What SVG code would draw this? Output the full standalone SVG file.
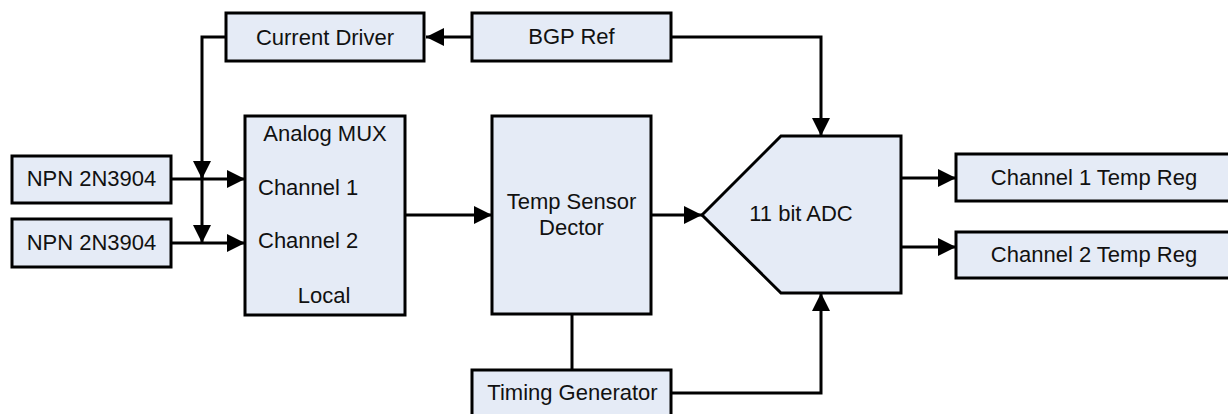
<svg xmlns="http://www.w3.org/2000/svg" width="1228" height="414" viewBox="0 0 1228 414">
<style>
.box{fill:#E5EBF6;stroke:#000;stroke-width:3;stroke-linejoin:miter}
.t{font-family:"Liberation Sans",Arial,sans-serif;font-size:22px;fill:#111}
.c{text-anchor:middle}
.ln{fill:none;stroke:#000;stroke-width:3}
</style>
<defs>
<marker id="ah" viewBox="0 0 18 18" refX="18" refY="9" markerWidth="18" markerHeight="18" markerUnits="userSpaceOnUse" orient="auto">
<path d="M0,0 L18,9 L0,18 z" fill="#000"/>
</marker>
</defs>
<rect width="1228" height="414" fill="#fff"/>
<g id="connectors">
<path class="ln" d="M472,37 H426" marker-end="url(#ah)"/>
<path class="ln" d="M226,37 H202 V178"/>
<path class="ln" d="M202,170 V179" marker-end="url(#ah)"/>
<path class="ln" d="M202,179 V243" marker-end="url(#ah)"/>
<path class="ln" d="M171,179 H245" marker-end="url(#ah)"/>
<path class="ln" d="M171,243 H245" marker-end="url(#ah)"/>
<path class="ln" d="M405,215 H492" marker-end="url(#ah)"/>
<path class="ln" d="M651,215 H702" marker-end="url(#ah)"/>
<path class="ln" d="M671,37 H821 V136" marker-end="url(#ah)"/>
<path class="ln" d="M572,314 V370"/>
<path class="ln" d="M671,393 H821 V293" marker-end="url(#ah)"/>
<path class="ln" d="M901,178 H956" marker-end="url(#ah)"/>
<path class="ln" d="M901,247 H956" marker-end="url(#ah)"/>
</g>
<g id="current-driver"><rect class="box" x="226" y="13" width="198" height="48"/><text class="t c" x="325" y="45">Current Driver</text></g>
<g id="bgp-ref"><rect class="box" x="472" y="13" width="199" height="48"/><text class="t c" x="571.5" y="44">BGP Ref</text></g>
<g id="npn1"><rect class="box" x="12" y="156" width="159" height="47"/><text class="t c" x="91.5" y="186">NPN 2N3904</text></g>
<g id="npn2"><rect class="box" x="12" y="219" width="159" height="48"/><text class="t c" x="91.5" y="250">NPN 2N3904</text></g>
<g id="analog-mux"><rect class="box" x="245" y="116" width="160" height="199"/>
<text class="t c" x="325" y="141">Analog MUX</text>
<text class="t" x="258" y="195">Channel 1</text>
<text class="t" x="258" y="248">Channel 2</text>
<text class="t c" x="324" y="303">Local</text></g>
<g id="temp-sensor"><rect class="box" x="492" y="116" width="159" height="198"/>
<text class="t c" x="571.5" y="209">Temp Sensor</text>
<text class="t c" x="571.5" y="235">Dector</text></g>
<g id="adc"><path class="box" d="M702,215 L781,136 H901 V293 H781 Z"/><text class="t c" x="801" y="221">11 bit ADC</text></g>
<g id="ch1-reg"><rect class="box" x="956" y="154" width="276" height="47"/><text class="t c" x="1094" y="185">Channel 1 Temp Reg</text></g>
<g id="ch2-reg"><rect class="box" x="956" y="232" width="276" height="46"/><text class="t c" x="1094" y="262">Channel 2 Temp Reg</text></g>
<g id="timing-generator"><rect class="box" x="472" y="370" width="199" height="52"/><text class="t c" x="572.5" y="400">Timing Generator</text></g>
</svg>
